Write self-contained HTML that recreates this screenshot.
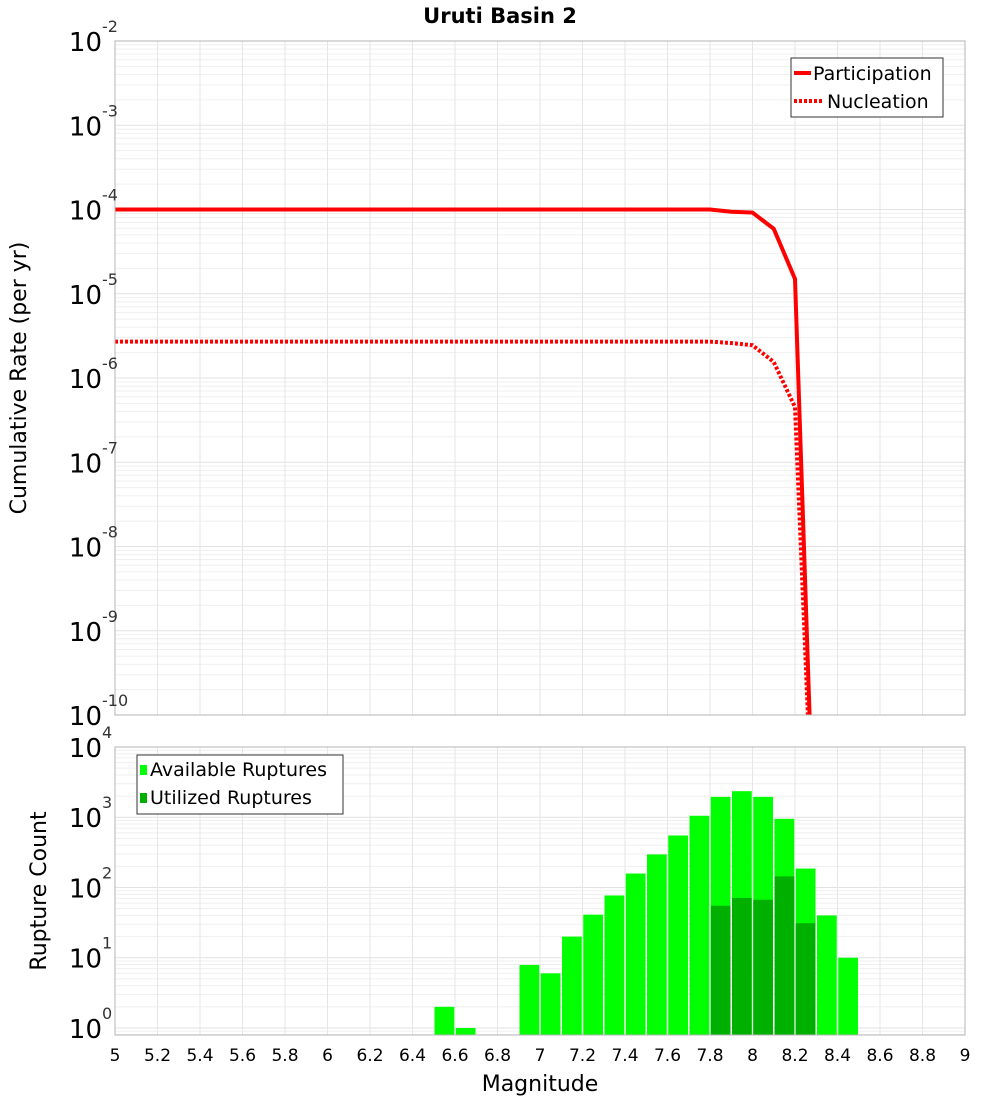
<!DOCTYPE html>
<html><head><meta charset="utf-8"><style>
body{margin:0;background:#fff;font-family:"Liberation Sans","DejaVu Sans",sans-serif}
svg text{font-family:"DejaVu Sans","Liberation Sans",sans-serif}
</style></head><body>
<svg id="c" width="1000" height="1100" xmlns="http://www.w3.org/2000/svg">
<rect width="1000" height="1100" fill="#fff"/>
<text x="500" y="23" text-anchor="middle" font-size="21" font-weight="bold">Uruti Basin 2</text>
<g id="topg"></g><g id="botg"></g>
</svg>
<script>
const mags=[5.0,5.1,5.2,5.3,5.4,5.5,5.6,5.7,5.8,5.9,6.0,6.1,6.2,6.3,6.4,6.5,6.6,6.7,6.8,6.9,7.0,7.1,7.2,7.3,7.4,7.5,7.6,7.7,7.8,7.9,8.0,8.1,8.2,8.3];
const participation=[1e-4,1e-4,1e-4,1e-4,1e-4,1e-4,1e-4,1e-4,1e-4,1e-4,1e-4,1e-4,1e-4,1e-4,1e-4,1e-4,1e-4,1e-4,1e-4,1e-4,1e-4,1e-4,1e-4,1e-4,1e-4,1e-4,1e-4,1e-4,1e-4,9.4e-5,9.2e-5,5.9e-5,1.5e-5,1e-20];
const nucleation=[2.7e-6,2.7e-6,2.7e-6,2.7e-6,2.7e-6,2.7e-6,2.7e-6,2.7e-6,2.7e-6,2.7e-6,2.7e-6,2.7e-6,2.7e-6,2.7e-6,2.7e-6,2.7e-6,2.7e-6,2.7e-6,2.7e-6,2.7e-6,2.7e-6,2.7e-6,2.7e-6,2.7e-6,2.7e-6,2.7e-6,2.7e-6,2.7e-6,2.7e-6,2.6e-6,2.45e-6,1.55e-6,4.5e-7,1e-20];
const binCenters=[6.55,6.65,6.95,7.05,7.15,7.25,7.35,7.45,7.55,7.65,7.75,7.85,7.95,8.05,8.15,8.25,8.35,8.45];
const available=[2,1,7.9,6,20,41,77,158,296,550,1050,1950,2350,1950,950,186,40,10];
const utilCenters=[7.85,7.95,8.05,8.15,8.25];
const utilized=[55,71,67,144,31];
const xTicks=["5","5.2","5.4","5.6","5.8","6","6.2","6.4","6.6","6.8","7","7.2","7.4","7.6","7.8","8","8.2","8.4","8.6","8.8","9"];
const topExp=[-2,-3,-4,-5,-6,-7,-8,-9,-10];
const botExp=[4,3,2,1,0];

const NS="http://www.w3.org/2000/svg";
const L=115,R=965;
const T1=41,B1=715,T2=747,B2=1035;
const X=m=>L+(m-5)/4*(R-L);
const Y1=v=>T1+(-2-Math.log10(v))/8*(B1-T1);
const Y2=v=>B2-(Math.log10(v)+0.1)/4.1*(B2-T2);
function mk(p,tag,a){const e=document.createElementNS(NS,tag);for(const k in a)e.setAttribute(k,a[k]);p.appendChild(e);return e;}
const gTop=document.getElementById('topg'),gBot=document.getElementById('botg');

function grid(g,T,B,expMin,expMax,Yf){
  for(let e=expMin;e<expMax;e++)for(let k=1;k<10;k++){const y=Yf(k*Math.pow(10,e));if(y<T||y>B)continue;
    const l=mk(g,'line',{x1:L,x2:R,y1:y,y2:y,stroke:k==1?'#e2e2e2':'#efefef','stroke-width':1});
    
    }
  xTicks.forEach(t=>{const x=X(+t);const l=mk(g,'line',{x1:x,x2:x,y1:T,y2:B,stroke:'#e6e6e6','stroke-width':1});
    
    });
}
grid(gTop,T1,B1,-10,-2,Y1);
grid(gBot,T2,B2,-1,4,Y2);

const defs=mk(document.getElementById('c'),'defs',{});
const cp=mk(defs,'clipPath',{id:'clip1'});mk(cp,'rect',{x:L,y:T1,width:R-L,height:B1-T1});
function line(vals,dash,name){const pts=[];mags.forEach((m,i)=>{let y=Y1(vals[i]);pts.push(X(m)+','+Math.min(y,B1+200));});
  const p=mk(gTop,'polyline',{points:pts.join(' '),fill:'none',stroke:'#ff0000','stroke-width':4,'stroke-dasharray':dash,'clip-path':'url(#clip1)'});
  
  }
line(nucleation,'3,2','nucleation-line');
line(participation,'none','participation-line');
const f1=mk(gTop,'rect',{x:L,y:T1,width:R-L,height:B1-T1,fill:'none',stroke:'#b4b4b4'});



const bw=(X(5.1)-X(5))-1.5;
binCenters.forEach((c,i)=>{const y=Y2(available[i]);const r=mk(gBot,'rect',{x:X(c)-bw/2,y:y,width:bw,height:B2-y,fill:'#00ff00'});
  
  });
utilCenters.forEach((c,i)=>{const y=Y2(utilized[i]);const r=mk(gBot,'rect',{x:X(c)-bw/2,y:y,width:bw,height:B2-y,fill:'#00b000'});
  
  });
const f2=mk(gBot,'rect',{x:L,y:T2,width:R-L,height:B2-T2,fill:'none',stroke:'#b4b4b4'});



function ylab(g,exp,y){const t=mk(g,'text',{x:102,y:y+10,'text-anchor':'end','font-size':26});
  t.textContent='10';
  
  
  const s=mk(g,'text',{x:102,y:y-9,'font-size':16,fill:'#333'});s.textContent=exp;
  
  }
topExp.forEach(e=>ylab(gTop,e,Y1(Math.pow(10,e))));
botExp.forEach(e=>ylab(gBot,e,Y2(Math.pow(10,e))));
xTicks.forEach(t=>{const tx=mk(gBot,'text',{x:X(+t),y:1061,'text-anchor':'middle','font-size':17});tx.textContent=t;
  
  });

const yt1=mk(gTop,'text',{x:0,y:0,transform:'translate(26,378) rotate(-90)','text-anchor':'middle','font-size':22});yt1.textContent='Cumulative Rate (per yr)';


const yt2=mk(gBot,'text',{x:0,y:0,transform:'translate(46,891) rotate(-90)','text-anchor':'middle','font-size':22});yt2.textContent='Rupture Count';


const xt=mk(gBot,'text',{x:540,y:1091,'text-anchor':'middle','font-size':22});xt.textContent='Magnitude';



const lg1=mk(gTop,'g',{});


mk(lg1,'rect',{x:791,y:58,width:152,height:59,fill:'#fff',stroke:'#333'});
mk(lg1,'line',{x1:794,x2:811,y1:73,y2:73,stroke:'#f00','stroke-width':4});
mk(lg1,'line',{x1:794,x2:823,y1:101,y2:101,stroke:'#f00','stroke-width':4,'stroke-dasharray':'3,2'});
const a=mk(lg1,'text',{x:813,y:80,'font-size':19});a.textContent='Participation';
const b=mk(lg1,'text',{x:827,y:108,'font-size':19});b.textContent='Nucleation';
const lg2=mk(gBot,'g',{});


mk(lg2,'rect',{x:137,y:755,width:206,height:59,fill:'#fff',stroke:'#333'});
mk(lg2,'rect',{x:140,y:765,width:7,height:10,fill:'#00ff00'});
mk(lg2,'rect',{x:140,y:793,width:7,height:10,fill:'#00b000'});
const c1=mk(lg2,'text',{x:150,y:776,'font-size':19});c1.textContent='Available Ruptures';
const c2=mk(lg2,'text',{x:150,y:804,'font-size':19});c2.textContent='Utilized Ruptures';
</script>
</body></html>
